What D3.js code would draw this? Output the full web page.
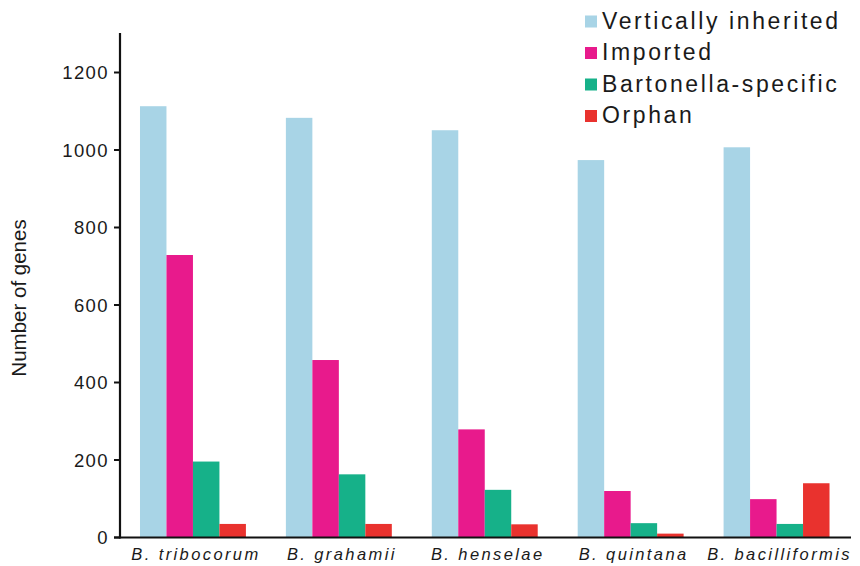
<!DOCTYPE html>
<html>
<head>
<meta charset="utf-8">
<script src="https://cdn.jsdelivr.net/npm/d3@7"></script>
<style>
  html, body { margin: 0; padding: 0; background: #fff; }
  svg { display: block; }
  text { font-family: "Liberation Sans", Arial, sans-serif; fill: #1a1a1a; }
</style>
</head>
<body>
<svg id="chart" width="860" height="566"></svg>
<script>
// Gene counts per Bartonella species, split by origin
const species = ["B. tribocorum", "B. grahamii", "B. henselae", "B. quintana", "B. bacilliformis"];
const seriesNames = ["Vertically inherited", "Imported", "Bartonella-specific", "Orphan"];
const verticallyInherited = [1113, 1083, 1051, 974, 1007];
const imported = [729, 458, 279, 120, 99];
const bartonellaSpecific = [196, 163, 123, 37, 35];
const orphan = [35, 35, 34, 10, 140];
const yTicks = [0, 200, 400, 600, 800, 1000, 1200];
const colors = ["#a8d4e6", "#e81a8c", "#16b189", "#e9322e"];

const seriesValues = [verticallyInherited, imported, bartonellaSpecific, orphan];
const rows = species.map((s, i) => ({
  species: s,
  values: seriesNames.map((n, k) => ({ key: n, value: seriesValues[k][i] }))
}));

const svg = d3.select("#chart");
const axisX = 120, zeroY = 537.5, topY = 33, rightX = 851;

const x0 = d3.scaleBand().domain(species).range([axisX, 849.5])
  .paddingInner(0.274).paddingOuter(0.137);
const x1 = d3.scaleBand().domain(seriesNames).range([0, x0.bandwidth()]).padding(0);
const y = d3.scaleLinear().domain([0, 1200]).range([zeroY, 72.5]);
const color = d3.scaleOrdinal().domain(seriesNames).range(colors);

// Bars
const groups = svg.append("g").selectAll("g").data(rows).join("g")
  .attr("transform", d => `translate(${x0(d.species)},0)`);
groups.selectAll("rect").data(d => d.values).join("rect")
  .attr("x", d => x1(d.key))
  .attr("width", x1.bandwidth())
  .attr("y", d => y(d.value))
  .attr("height", d => zeroY - y(d.value))
  .attr("fill", d => color(d.key));

// Y axis
const yAxis = svg.append("g").attr("transform", `translate(${axisX},0)`);
yAxis.append("line").attr("x1", 0).attr("x2", 0).attr("y1", topY).attr("y2", zeroY + 1)
  .attr("stroke", "#111").attr("stroke-width", 2.2);
const yt = yAxis.selectAll(".tick").data(yTicks).join("g")
  .attr("transform", d => `translate(0,${y(d)})`);
yt.append("line").attr("x1", -6).attr("x2", 0).attr("stroke", "#111").attr("stroke-width", 2);
yt.append("text").attr("x", -11).attr("dy", "0.36em").attr("text-anchor", "end")
  .style("font-size", "18.5px").style("letter-spacing", "1.4px")
  .text(d => d);

// X axis
svg.append("line").attr("x1", axisX - 6).attr("x2", rightX).attr("y1", zeroY).attr("y2", zeroY)
  .attr("stroke", "#111").attr("stroke-width", 2.2);
svg.append("g").selectAll("text").data(species).join("text")
  .attr("x", d => x0(d) + x0.bandwidth() / 2 + 3)
  .attr("y", 560)
  .attr("text-anchor", "middle")
  .style("font-size", "16.5px").style("font-style", "italic").style("letter-spacing", "2.4px")
  .text(d => d);

// Y axis title
svg.append("text")
  .attr("transform", "translate(26,298) rotate(-90)")
  .attr("text-anchor", "middle")
  .style("font-size", "20.5px")
  .text("Number of genes");

// Legend
const legend = svg.append("g").selectAll("g").data(seriesNames).join("g")
  .attr("transform", (d, i) => `translate(585,${28.5 + i * 31.5})`);
legend.append("rect").attr("x", 0).attr("y", -13).attr("width", 12).attr("height", 12)
  .attr("fill", d => color(d));
legend.append("text").attr("x", 17).attr("y", 0)
  .style("font-size", "23px").style("letter-spacing", "2.6px")
  .text(d => d);
</script>
</body>
</html>
